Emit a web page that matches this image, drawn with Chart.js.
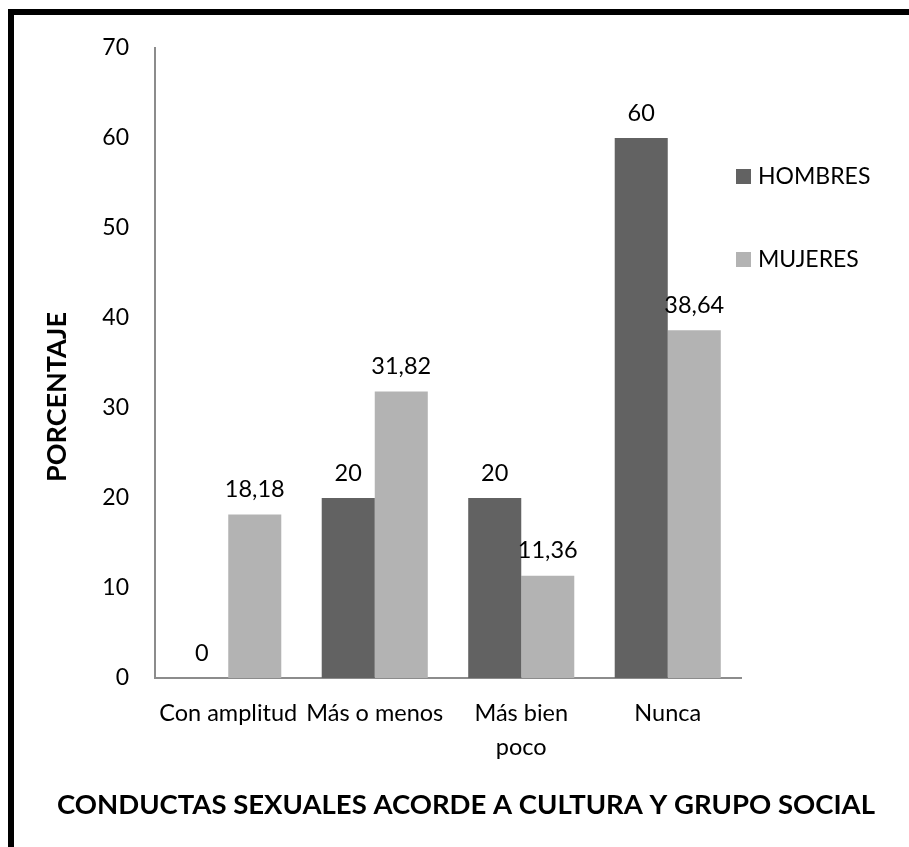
<!DOCTYPE html>
<html lang="es">
<head>
<meta charset="utf-8">
<title>Conductas sexuales acorde a cultura y grupo social</title>
<style>
  html, body { margin: 0; padding: 0; background: #fff; }
  .wrap { position: relative; width: 909px; height: 847px; overflow: hidden; }
  .wrap canvas { display: block; }
  /* marco negro superior e izquierdo */
  .frame {
    position: absolute; left: 8px; top: 9px; right: -20px; bottom: -20px;
    border-top: 6px solid #000; border-left: 6px solid #000;
    pointer-events: none;
  }
</style>
</head>
<body>
<div class="wrap">
  <canvas id="conductasChart" width="909" height="847"></canvas>
  <div class="frame"></div>
</div>

<script src="https://cdn.jsdelivr.net/npm/chart.js"></script>
<script>
const categorias = ['Con amplitud', 'Más o menos', ['Más bien', 'poco'], 'Nunca'];
const hombres = [0, 20, 20, 60];
const mujeres = [18.18, 31.82, 11.36, 38.64];
const series = ['HOMBRES', 'MUJERES'];
const colores = ['#626262', '#b3b3b3'];
const yMin = 0;
const yMax = 70;
const yPaso = 10;
const tituloX = 'CONDUCTAS SEXUALES ACORDE A CULTURA Y GRUPO SOCIAL';
const tituloY = 'PORCENTAJE';

const FUENTE = 'Lato';

function formatoValor(v) {
  return String(v).replace('.', ',');
}

// etiquetas de valor encima de cada barra
const etiquetasValor = {
  id: 'etiquetasValor',
  afterDatasetsDraw(chart) {
    const ctx = chart.ctx;
    ctx.save();
    ctx.font = '23.5px ' + FUENTE;
    ctx.fillStyle = '#000';
    ctx.textAlign = 'center';
    ctx.textBaseline = 'middle';
    chart.data.datasets.forEach((ds, i) => {
      chart.getDatasetMeta(i).data.forEach((bar, j) => {
        ctx.fillText(formatoValor(ds.data[j]), bar.x, bar.y - 25);
      });
    });
    ctx.restore();
  }
};

// leyenda a la derecha, con mucho espacio entre elementos
const leyendaLateral = {
  id: 'leyendaLateral',
  afterDraw(chart) {
    const ctx = chart.ctx;
    const x = chart.chartArea.right - 5;
    ctx.save();
    ctx.font = '23px ' + FUENTE;
    ctx.textBaseline = 'middle';
    ctx.textAlign = 'left';
    chart.data.datasets.forEach((ds, i) => {
      const y = 176 + i * 83;
      ctx.fillStyle = ds.backgroundColor;
      ctx.fillRect(x, y - 7, 15, 15);
      ctx.fillStyle = '#000';
      ctx.fillText(ds.label, x + 22, y + 1);
    });
    ctx.restore();
  }
};

// títulos de los ejes
const titulosEjes = {
  id: 'titulosEjes',
  afterDraw(chart) {
    const ctx = chart.ctx;
    ctx.save();
    ctx.font = 'bold 27.5px ' + FUENTE;
    ctx.fillStyle = '#000';
    ctx.textAlign = 'center';
    ctx.textBaseline = 'middle';
    ctx.fillText(tituloX, 466, 805);
    ctx.font = 'bold 27px ' + FUENTE;
    ctx.translate(57, 397);
    ctx.rotate(-Math.PI / 2);
    ctx.fillText(tituloY, 0, 0);
    ctx.restore();
  }
};

const ctx = document.getElementById('conductasChart').getContext('2d');
const grafico = new Chart(ctx, {
  type: 'bar',
  data: {
    labels: categorias,
    datasets: [
      { label: series[0], data: hombres, backgroundColor: colores[0], borderWidth: 0 },
      { label: series[1], data: mujeres, backgroundColor: colores[1], borderWidth: 0 }
    ]
  },
  options: {
    responsive: false,
    animation: false,
    categoryPercentage: 0.724,
    barPercentage: 1,
    layout: { padding: { left: 0, top: 48, right: 168, bottom: 0 } },
    plugins: {
      legend: { display: false },
      tooltip: { enabled: false },
      title: { display: false }
    },
    scales: {
      x: {
        grid: { display: false, drawTicks: false },
        border: { display: true, color: '#8c8c8c', width: 2 },
        ticks: {
          color: '#000',
          font: { family: FUENTE, size: 23.5, lineHeight: 1.45 },
          padding: 18,
          autoSkip: false,
          maxRotation: 0,
          minRotation: 0
        },
        afterFit(scale) { scale.height = 847 - 678; }
      },
      y: {
        min: yMin,
        max: yMax,
        grid: { display: false, drawTicks: false },
        border: { display: true, color: '#8c8c8c', width: 2 },
        ticks: {
          stepSize: yPaso,
          color: '#000',
          font: { family: FUENTE, size: 23 },
          padding: 26
        },
        afterFit(scale) { scale.width = 155; }
      }
    }
  },
  plugins: [etiquetasValor, leyendaLateral, titulosEjes]
});
</script>
</body>
</html>
